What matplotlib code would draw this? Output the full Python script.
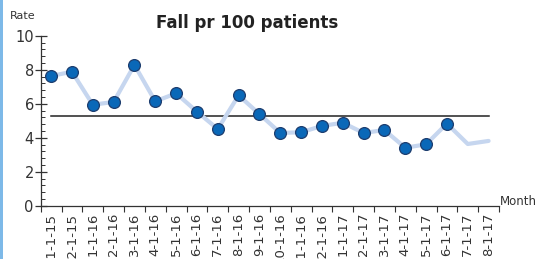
import matplotlib
matplotlib.use("Agg")
import matplotlib.pyplot as plt
from matplotlib.ticker import MultipleLocator, FixedLocator
from matplotlib.patches import Rectangle
import numpy as np

months = ["11-1-15", "12-1-15", "1-1-16", "2-1-16", "3-1-16", "4-1-16", "5-1-16",
          "6-1-16", "7-1-16", "8-1-16", "9-1-16", "10-1-16", "11-1-16", "12-1-16",
          "1-1-17", "2-1-17", "3-1-17", "4-1-17", "5-1-17", "6-1-17", "7-1-17", "8-1-17"]
rates = [7.63, 7.88, 5.94, 6.10, 8.28, 6.14, 6.61, 5.53, 4.51, 6.49, 5.39,
         4.28, 4.32, 4.69, 4.88, 4.28, 4.45, 3.41, 3.61, 4.83, 3.63, 3.81]
n_marked = 20  # points shown with markers

center = float(np.mean(rates))

fig = plt.figure(figsize=(5.4, 2.59), dpi=100)
fig.patches.append(Rectangle((0, 0), 3 / 540, 1, transform=fig.transFigure,
                             facecolor="#7db9e8", edgecolor="none"))
ax = fig.add_axes([40.7 / 540, 1 - 205.7 / 259, (499 - 40.7) / 540, (205.7 - 35.7) / 259])

x = np.arange(len(months))
ax.plot(x, rates, color="#c6d6ef", lw=3, solid_capstyle="round", zorder=2)
ax.plot(x[:n_marked], rates[:n_marked], ls="none", marker="o", ms=8.5,
        mfc="#0a68b8", mec="#1d3d6e", mew=0.9, zorder=3)
ax.plot([x[0], x[-1]], [center, center], color="#222222", lw=1.1, zorder=1)

ax.set_xlim(-0.5, len(months) - 0.5)
ax.set_ylim(0, 10)

for s in ["top", "right"]:
    ax.spines[s].set_visible(False)
for s in ["left", "bottom"]:
    ax.spines[s].set_color("#333333")
    ax.spines[s].set_linewidth(0.9)

ax.yaxis.set_major_locator(MultipleLocator(2))
ax.yaxis.set_minor_locator(MultipleLocator(0.4))
ax.tick_params(axis="y", which="major", direction="inout", length=8, width=0.9,
               color="#333333", labelsize=10.5, labelcolor="#333333", pad=1)
ax.tick_params(axis="y", which="minor", direction="in", length=3, width=0.7, color="#333333")

ax.set_xticks(x)
ax.set_xticklabels(months, rotation=90, fontsize=9.5, color="#333333")
ax.xaxis.set_minor_locator(FixedLocator(np.arange(-0.5, len(months), 1.0)))
ax.tick_params(axis="x", which="major", length=0, pad=5)
ax.tick_params(axis="x", which="minor", direction="out", length=4, width=0.8, color="#333333")

fig.text(10 / 540, 1 - 19 / 259, "Rate", fontsize=8, color="#333333", ha="left", va="baseline")
fig.text(500 / 540, 1 - 205 / 259, "Month", fontsize=8.5, color="#333333", ha="left", va="baseline")
fig.text(247 / 540, 1 - 28 / 259, "Fall pr 100 patients", fontsize=12, fontweight="bold",
         color="#222222", ha="center", va="baseline")

fig.savefig("out.png", dpi=100)
